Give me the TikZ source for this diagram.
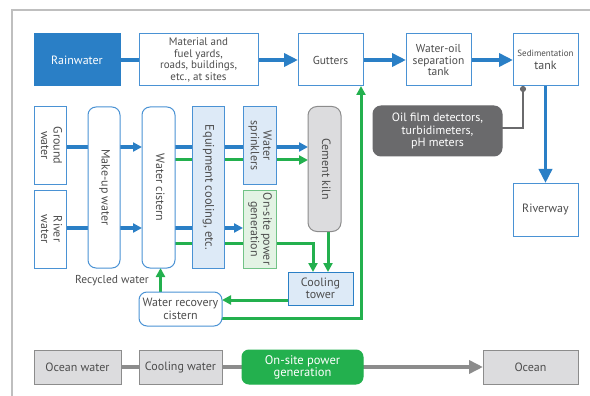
\documentclass[tikz,border=0pt]{standalone}
\usepackage{fontspec}
\setmainfont{PT Sans}
\usetikzlibrary{arrows.meta, positioning, backgrounds}

\definecolor{rainblue}{HTML}{2A7FC6}
\definecolor{edgeblue}{HTML}{4A92D4}
\definecolor{paleblue}{HTML}{DDEAF7}
\definecolor{flowgreen}{HTML}{23B04E}
\definecolor{palegreen}{HTML}{E3F3E4}
\definecolor{edgegreen}{HTML}{72C387}
\definecolor{darkbox}{HTML}{6A6A6C}
\definecolor{palegray}{HTML}{DCDCDE}
\definecolor{edgegray}{HTML}{8C8C8C}
\definecolor{textgray}{HTML}{4D4D4D}
\definecolor{framegray}{HTML}{BFBFBF}

% 竖排文字
\newcommand{\vtext}[1]{\rotatebox{-90}{\begin{tabular}{@{}c@{}}#1\end{tabular}}}

\tikzset{
    wh/.style 2 args={minimum width=#1pt, minimum height=#2pt},
    box/.style={draw=edgeblue, line width=1pt, fill=white, text=textgray,
        inner sep=0pt, outer sep=0pt, align=center,
        font=\fontsize{12}{12.5}\selectfont},
    rbox/.style={box, rounded corners=8pt},
    pbox/.style={box, fill=paleblue},
    gbox/.style={box, fill=palegreen, draw=edgegreen},
    solidbox/.style={box, fill=rainblue, draw=rainblue, text=white},
    meterbox/.style={box, fill=darkbox, draw=darkbox, text=white, rounded corners=8pt},
    kilnbox/.style={box, fill=palegray, draw=edgegray, rounded corners=9pt},
    seabox/.style={box, fill=palegray, draw=edgegray, line width=0.9pt},
    powerbox/.style={box, fill=flowgreen, draw=flowgreen, text=white, rounded corners=7pt,
        font=\fontsize{12.5}{12}\selectfont},
    flow/.style={draw=rainblue, line width=3.5pt},
    loop/.style={draw=flowgreen, line width=3pt},
    sea/.style={draw=edgegray, line width=4pt},
    probe/.style={draw=darkbox, line width=1.8pt},
    bigtip/.style={-{Triangle[length=14pt, width=13pt]}},
    tip/.style={-{Triangle[length=9pt, width=9pt]}},
}

\begin{document}
\begin{tikzpicture}[x=1pt, y=-1pt]
    \useasboundingbox (0,0) rectangle (590,396);

    % 外框
    \draw[framegray, line width=1.5pt] (12,396) -- (12,10) -- (590,10);

    % 顶部雨水流程
    \node[solidbox, wh={86}{52}] (rain) at (77,60) {Rainwater};
    \node[box, wh={119}{52}, font=\fontsize{11}{11.5}\selectfont] (yard) at (198.5,60) {Material and\\fuel yards,\\roads, buildings,\\etc., at sites};
    \node[box, wh={65}{52}, font=\fontsize{11.5}{12}\selectfont] (gutter) at (330.5,60) {Gutters};
    \node[box, wh={65}{52}, font=\fontsize{11.5}{11.5}\selectfont] (sep) at (438.5,60) {Water-oil\\separation\\tank};
    \node[box, wh={65}{52}] (sed) at (545.5,60) {{\fontsize{9}{11}\selectfont Sedimentation}\\tank};
    \node[box, wh={65}{53}] (river) at (545.5,209.5) {Riverway};
    \node[meterbox, wh={129}{50}] (meter) at (437.5,131) {Oil film detectors,\\turbidimeters,\\pH meters};

    % 取水与用水
    \node[box, wh={32}{77}] (ground) at (50,145.5) {\vtext{Ground\\water}};
    \node[box, wh={32}{78}] (riverw) at (50,229) {\vtext{River\\water}};
    \node[rbox, wh={32}{161}] (makeup) at (104,187.5) {\vtext{Make-up water}};
    \node[rbox, wh={33}{161}] (cistern) at (158.5,187.5) {\vtext{Water cistern}};
    \node[pbox, wh={32}{161}, font=\fontsize{12.5}{13}\selectfont] (equip) at (208,187.5) {\vtext{Equipment cooling, etc.}};
    \node[pbox, wh={33}{77}] (spray) at (259.5,145.5) {\vtext{Water\\sprinklers}};
    \node[gbox, wh={33}{78}] (power) at (259.5,229) {\vtext{On-site power\\generation}};
    \node[kilnbox, wh={33}{125}] (kiln) at (324.5,169) {\vtext{Cement kiln}};
    \node[pbox, draw=rainblue, wh={65}{33}] (tower) at (320.5,288.5) {Cooling\\tower};
    \node[rbox, wh={83}{34}] (recov) at (180.5,309) {Water recovery\\cistern};
    \node[text=textgray, font=\fontsize{11.5}{12}\selectfont] (recyc) at (112,281) {Recycled water};

    % 海水冷却
    \node[seabox, wh={87}{34}] (ocwater) at (77.5,367) {Ocean water};
    \node[seabox, wh={83}{34}] (coolw) at (180.5,367) {Cooling water};
    \node[powerbox, wh={121}{34}] (power2) at (302.5,367) {On-site power\\generation};
    \node[seabox, wh={95}{34}] (ocean) at (530.5,367) {Ocean};

    % 各管线高度
    \coordinate (r1) at (0,147);
    \coordinate (r2) at (0,160);
    \coordinate (r3) at (0,228);
    \coordinate (r4) at (0,243);

    \begin{scope}[on background layer]
        % 雨水排放
        \draw[flow] (rain.east) -- (yard.west);
        \draw[flow, bigtip] (yard.east) -- (gutter.west);
        \draw[flow, bigtip] (gutter.east) -- (sep.west);
        \draw[flow, bigtip] (sep.east) -- (sed.west);
        \draw[flow, bigtip] (sed.south) -- (river.north);
        \draw[probe, -{Circle[length=6pt]}] ([yshift=3pt]meter.east) -| ([xshift=-22.5pt]sed.south);

        % 补水
        \draw[flow, tip] (ground.east |- r1) -- (cistern.west |- r1);
        \draw[flow, tip] (riverw.east |- r3) -- (cistern.west |- r3);

        % 供水
        \draw[flow, tip] (cistern.east |- r1) -- (kiln.west |- r1);
        \draw[loop, tip] (cistern.east |- r2) -- (kiln.west |- r2);
        \draw[flow, tip] (cistern.east |- r3) -- (power.west |- r3);
        \draw[loop, tip] (cistern.east |- r4) -| ([xshift=-7.5pt]tower.north);
        \draw[loop, tip] ([xshift=3.5pt]kiln.south) -- ([xshift=3.5pt]kiln.south |- tower.north);

        % 回收水
        \draw[loop, tip] ([yshift=-11.5pt]tower.west) -- ([yshift=-11.5pt]tower.west -| recov.east);
        \draw[loop, tip] ([xshift=2pt]cistern.south |- recov.north) -- ([xshift=2pt]cistern.south);
        \draw[loop, tip] ([yshift=-9pt]recov.east) -| ([xshift=30.5pt]gutter.south);

        % 海水
        \draw[sea] (ocwater.east) -- (coolw.west);
        \draw[sea] (coolw.east) -- (power2.west);
        \draw[sea, bigtip] (power2.east) -- (ocean.west);
    \end{scope}
\end{tikzpicture}
\end{document}
